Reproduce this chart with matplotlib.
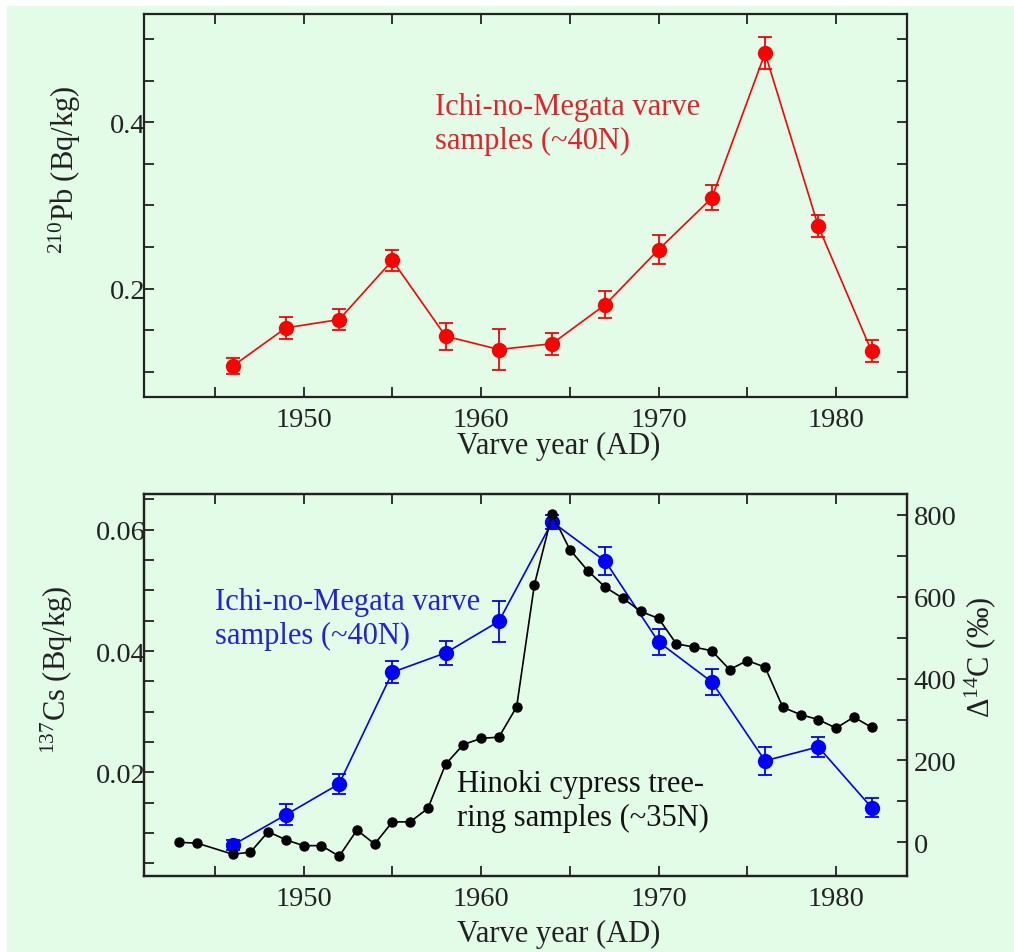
import matplotlib
matplotlib.use("Agg")
import matplotlib.pyplot as plt
from matplotlib.ticker import MultipleLocator
from matplotlib.patches import Rectangle

# ---- data ----
pb_years = [1946, 1949, 1952, 1955, 1958, 1961, 1964, 1967, 1970, 1973, 1976, 1979, 1982]
pb_vals = [0.107, 0.153, 0.163, 0.234, 0.143, 0.127, 0.134, 0.181, 0.247, 0.309, 0.483, 0.275, 0.125]
pb_err = [0.010, 0.013, 0.013, 0.013, 0.016, 0.025, 0.013, 0.016, 0.017, 0.015, 0.019, 0.013, 0.013]

cs_years = [1946, 1949, 1952, 1955, 1958, 1961, 1964, 1967, 1970, 1973, 1976, 1979, 1982]
cs_vals = [0.0080, 0.0130, 0.0181, 0.0365, 0.0397, 0.0449, 0.0613, 0.0548, 0.0415, 0.0349, 0.0219, 0.0242, 0.0142]
cs_err = [0.0008, 0.0017, 0.0016, 0.0018, 0.0020, 0.0034, 0.0012, 0.0023, 0.0021, 0.0021, 0.0023, 0.0017, 0.0015]

c14_years = list(range(1943, 1983))
c14_vals = [0, -2, None, -29, -24, 26, 6, -8, -8, -34, 30, -4, 50, 50, 83, 191, 239, 254, 257, 331,
            629, 802, 715, 664, 623, 596, 564, 547, 485, 477, 468, 422, 444, 428, 330, 312, 300, 279, 306, 281]
# 1945 has no sample
c14_x = [y for y, v in zip(c14_years, c14_vals) if v is not None]
c14_y = [v for v in c14_vals if v is not None]

# ---- style ----
plt.rcParams['font.family'] = ['Liberation Serif', 'DejaVu Serif']
plt.rcParams['mathtext.fontset'] = 'custom'
plt.rcParams['mathtext.rm'] = 'Liberation Serif'
plt.rcParams['mathtext.it'] = 'Liberation Serif:italic'
plt.rcParams['mathtext.bf'] = 'Liberation Serif:bold'

BG = '#E3FCE8'
INK = '#222222'
TICK_FS = 20.5
LAB_FS = 22

fig = plt.figure(figsize=(10.14, 9.53), dpi=100)
fig.patch.set_facecolor('white')
fig.patches.append(Rectangle((7 / 1014, 0), 1 - 7 / 1014, 1 - 7 / 953, transform=fig.transFigure,
                             facecolor=BG, edgecolor='none', zorder=-10))

ax1 = fig.add_axes([0.142, 0.5824, 0.7525, 0.4019])
ax2 = fig.add_axes([0.142, 0.0794, 0.7525, 0.4012])


def style_axes(ax, right=True):
    ax.set_facecolor('none')
    for s in ax.spines.values():
        s.set_linewidth(1.6)
        s.set_color(INK)
    ax.set_xlim(1941, 1984)
    ax.xaxis.set_major_locator(MultipleLocator(10))
    ax.xaxis.set_minor_locator(MultipleLocator(5))
    ax.tick_params(axis='x', which='both', direction='in', top=True, bottom=True,
                   length=7, width=1.3, color=INK, labelsize=TICK_FS, labelcolor=INK, pad=7)
    ax.tick_params(axis='y', which='both', direction='in', left=True, right=right,
                   length=7, width=1.3, color=INK, labelsize=TICK_FS, labelcolor=INK, pad=-1)
    ax.set_xlabel('Varve year (AD)', fontsize=LAB_FS, color=INK)


# ---- top panel ----
style_axes(ax1, right=True)
ax1.set_ylim(0.07, 0.53)
ax1.yaxis.set_major_locator(MultipleLocator(0.2))
ax1.yaxis.set_minor_locator(MultipleLocator(0.05))
ax1.errorbar(pb_years, pb_vals, yerr=pb_err, color='#FF0000', marker='o', markersize=10,
             linewidth=1.2, elinewidth=1.3, capsize=5, capthick=1.3)
ax1.set_ylabel(r'$^{210}$Pb (Bq/kg)', fontsize=LAB_FS, color=INK)
ax1.yaxis.set_label_coords(-0.08, 0.595)
ax1.xaxis.set_label_coords(0.543, -0.089)
ax1.text(0.381, 0.714, 'Ichi-no-Megata varve\nsamples (~40N)', transform=ax1.transAxes,
         color='#E8202A', fontsize=LAB_FS, ha='left', va='center', linespacing=1.25)

# ---- bottom panel ----
style_axes(ax2, right=False)
ax2.set_ylim(0.00285, 0.0659)
ax2.yaxis.set_major_locator(MultipleLocator(0.02))
ax2.yaxis.set_minor_locator(MultipleLocator(0.005))
ax2.errorbar(cs_years, cs_vals, yerr=cs_err, color='#0000FF', marker='o', markersize=10,
             linewidth=1.2, elinewidth=1.3, capsize=5, capthick=1.3)
ax2.set_ylabel(r'$^{137}$Cs (Bq/kg)', fontsize=LAB_FS, color=INK)
ax2.yaxis.set_label_coords(-0.09, 0.544)
ax2.xaxis.set_label_coords(0.543, -0.112)
ax2.text(0.093, 0.674, 'Ichi-no-Megata varve\nsamples (~40N)', transform=ax2.transAxes,
         color='#2222DD', fontsize=LAB_FS, ha='left', va='center', linespacing=1.25)
ax2.text(0.410, 0.198, 'Hinoki cypress tree-\nring samples (~35N)', transform=ax2.transAxes,
         color='#111111', fontsize=LAB_FS, ha='left', va='center', linespacing=1.25)

ax3 = ax2.twinx()
ax3.set_facecolor('none')
ax3.set_ylim(-83, 851)
ax3.yaxis.set_major_locator(MultipleLocator(200))
ax3.yaxis.set_minor_locator(MultipleLocator(100))
ax3.tick_params(axis='y', which='both', direction='in', length=7, width=1.3, color=INK,
                labelsize=TICK_FS, labelcolor=INK, pad=5)
for s in ax3.spines.values():
    s.set_linewidth(1.6)
    s.set_color(INK)
ax3.plot(c14_x, c14_y, color='black', marker='o', markersize=6.5, linewidth=1.2)
ax3.set_ylabel('Δ$^{14}$C (‰)', fontsize=LAB_FS, color=INK)
ax3.yaxis.set_label_coords(1.073, 0.576)

fig.savefig('out.png', dpi=100, facecolor=fig.get_facecolor())
